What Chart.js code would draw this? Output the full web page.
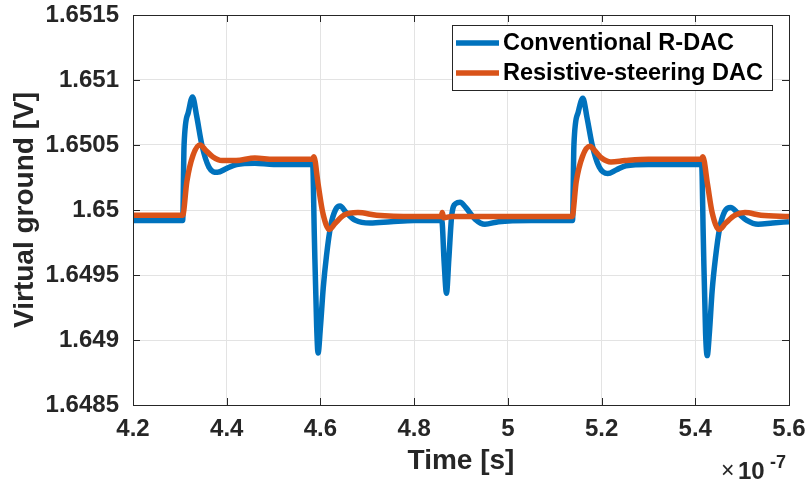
<!DOCTYPE html>
<html>
<head>
<meta charset="utf-8">
<script src="https://cdn.jsdelivr.net/npm/chart.js@4/dist/chart.umd.min.js"></script>
<style>
  html, body { margin: 0; padding: 0; background: #fff; }
  #wrap { width: 808px; height: 484px; }
</style>
</head>
<body>
<div id="wrap"><canvas id="c" width="808" height="484"></canvas></div>
<script>
// Time axis in units of 1e-7 s
const xTicks = [4.2, 4.4, 4.6, 4.8, 5.0, 5.2, 5.4, 5.6];
const xTickLabels = ['4.2', '4.4', '4.6', '4.8', '5', '5.2', '5.4', '5.6'];
const yTicks = [1.6485, 1.649, 1.6495, 1.65, 1.6505, 1.651, 1.6515];
const yTickLabels = ['1.6485', '1.649', '1.6495', '1.65', '1.6505', '1.651', '1.6515'];

const seriesNames = ['Conventional R-DAC', 'Resistive-steering DAC'];

// Conventional R-DAC virtual ground (V)
const convTime = [
  4.200, 4.306, 4.309, 4.318, 4.327, 4.336, 4.347, 4.362, 4.380, 4.400, 4.421, 4.460, 4.500,
  4.5835, 4.587, 4.592, 4.595, 4.600, 4.606, 4.613, 4.622, 4.632, 4.642, 4.655, 4.675, 4.706, 4.750, 4.800,
  4.859, 4.864, 4.869, 4.874, 4.880, 4.889, 4.898, 4.910, 4.930, 4.951, 4.980, 5.050,
  5.138, 5.141, 5.150, 5.160, 5.169, 5.180, 5.195, 5.213, 5.232, 5.252, 5.300,
  5.4136, 5.417, 5.422, 5.4255, 5.430, 5.436, 5.443, 5.452, 5.463, 5.4755, 5.490, 5.510, 5.534, 5.565, 5.600
];
const convVolt = [
  1.64992, 1.64992, 1.65050, 1.65075, 1.65087, 1.65072, 1.65050, 1.65033, 1.65029, 1.65032, 1.65035, 1.65036, 1.65035,
  1.65035, 1.64980, 1.64910, 1.64890, 1.64910, 1.64940, 1.64965, 1.64988, 1.65000, 1.65003, 1.64998, 1.64992, 1.64990, 1.64991, 1.64992,
  1.64992, 1.64960, 1.64936, 1.64962, 1.64995, 1.65005, 1.65006, 1.65002, 1.64993, 1.64989, 1.64991, 1.64992,
  1.64992, 1.65050, 1.65075, 1.65086, 1.65071, 1.65050, 1.65033, 1.65028, 1.65031, 1.65034, 1.65035,
  1.65035, 1.64980, 1.64905, 1.64888, 1.64905, 1.64938, 1.64963, 1.64986, 1.64999, 1.65002, 1.64998, 1.64992, 1.64989, 1.64990, 1.64991
];

// Resistive-steering DAC virtual ground (V)
const rsTime = [
  4.200, 4.306, 4.315, 4.328, 4.343, 4.355, 4.370, 4.390, 4.420, 4.460, 4.500,
  4.583, 4.586, 4.595, 4.605, 4.619, 4.632, 4.650, 4.680, 4.720, 4.800,
  4.858, 4.860, 4.863, 4.880, 5.000,
  5.137, 5.146, 5.159, 5.175, 5.187, 5.200, 5.220, 5.250, 5.300,
  5.413, 5.416, 5.426, 5.436, 5.451, 5.465, 5.485, 5.506, 5.540, 5.600
];
const rsVolt = [
  1.64996, 1.64996, 1.65022, 1.65042, 1.65050, 1.65046, 1.65041, 1.65038, 1.65038, 1.65040, 1.65039,
  1.65039, 1.65041, 1.65020, 1.64998, 1.64985, 1.64990, 1.64996, 1.64998, 1.64996, 1.64995,
  1.64995, 1.64998, 1.64994, 1.64995, 1.64995,
  1.64995, 1.65022, 1.65041, 1.65049, 1.65045, 1.65040, 1.65037, 1.65038, 1.65039,
  1.65039, 1.65041, 1.65020, 1.64998, 1.64985, 1.64990, 1.64996, 1.64998, 1.64996, 1.64995
];

const BLUE = '#0072BD';
const ORANGE = '#D95319';
const INK = '#262626';
const FONT = '"Liberation Sans", Arial, Helvetica, sans-serif';

const pairs = (t, v) => t.map((x, i) => ({ x, y: v[i] }));

// Axes frame, inward tick marks, legend box and the exponent label
const decorations = {
  id: 'decorations',
  afterDatasetsDraw(chart) {
    const { ctx, chartArea: a, scales } = chart;
    const xs = scales.x, ys = scales.y;
    const tl = 7;
    ctx.save();
    ctx.strokeStyle = INK;
    ctx.lineWidth = 1;
    ctx.beginPath();
    xTicks.forEach(v => {
      const px = Math.round(xs.getPixelForValue(v)) + 0.5;
      ctx.moveTo(px, a.bottom); ctx.lineTo(px, a.bottom - tl);
      ctx.moveTo(px, a.top); ctx.lineTo(px, a.top + tl);
    });
    yTicks.forEach(v => {
      const py = Math.round(ys.getPixelForValue(v)) + 0.5;
      ctx.moveTo(a.left, py); ctx.lineTo(a.left + tl, py);
      ctx.moveTo(a.right, py); ctx.lineTo(a.right - tl, py);
    });
    ctx.stroke();
    ctx.strokeRect(Math.round(a.left) + 0.5, Math.round(a.top) + 0.5,
                   Math.round(a.right - a.left), Math.round(a.bottom - a.top));

    // legend
    const bx = 452, by = 25, bw = 320, bh = 65;
    ctx.fillStyle = '#fff';
    ctx.fillRect(bx, by, bw, bh);
    ctx.strokeStyle = INK;
    ctx.strokeRect(bx + 0.5, by + 0.5, bw, bh);
    ctx.font = 'bold 23.5px ' + FONT;
    ctx.textBaseline = 'middle';
    ctx.textAlign = 'left';
    chart.data.datasets.forEach((ds, i) => {
      const ry = by + 18 + i * 30;
      ctx.strokeStyle = ds.borderColor;
      ctx.lineWidth = 5.5;
      ctx.beginPath();
      ctx.moveTo(456, ry); ctx.lineTo(499, ry);
      ctx.stroke();
      ctx.fillStyle = '#000';
      ctx.fillText(ds.label, 503, ry + 1);
    });

    // x-axis exponent
    ctx.fillStyle = INK;
    ctx.textBaseline = 'alphabetic';
    ctx.font = '23px ' + FONT;
    ctx.fillText('\u00d7', 721, 478);
    ctx.font = 'bold 24px ' + FONT;
    ctx.fillText('10', 738, 479);
    ctx.font = 'bold 18px ' + FONT;
    ctx.fillText('-7', 770, 468);
    ctx.restore();
  }
};

new Chart(document.getElementById('c'), {
  type: 'line',
  data: {
    datasets: [
      {
        label: seriesNames[0],
        data: pairs(convTime, convVolt),
        borderColor: BLUE,
        borderWidth: 5.5,
        pointRadius: 0,
        cubicInterpolationMode: 'monotone',
        order: 1
      },
      {
        label: seriesNames[1],
        data: pairs(rsTime, rsVolt),
        borderColor: ORANGE,
        borderWidth: 5.5,
        pointRadius: 0,
        cubicInterpolationMode: 'monotone',
        order: 0
      }
    ]
  },
  options: {
    responsive: false,
    animation: false,
    events: [],
    layout: { padding: { top: 15, right: 19, left: 0, bottom: 0 } },
    plugins: { legend: { display: false }, tooltip: { enabled: false } },
    scales: {
      x: {
        type: 'linear',
        min: 4.2, max: 5.6,
        afterBuildTicks: s => { s.ticks = xTicks.map(v => ({ value: v })); },
        afterFit: s => { s.height = 79; s.paddingLeft = 0; s.paddingRight = 0; },
        grid: { color: '#e3e3e3', lineWidth: 1, drawTicks: false },
        border: { display: false },
        ticks: {
          color: INK,
          font: { family: FONT, size: 24, weight: 'bold' },
          padding: 10,
          maxRotation: 0,
          callback: (v, i) => xTickLabels[i]
        },
        title: {
          display: true,
          text: 'Time [s]',
          color: INK,
          font: { family: FONT, size: 28, weight: 'bold' },
          padding: { top: 0, bottom: 6 }
        }
      },
      y: {
        type: 'linear',
        min: 1.6485, max: 1.6515,
        afterBuildTicks: s => { s.ticks = yTicks.map(v => ({ value: v })); },
        afterFit: s => { s.width = 133; s.paddingTop = 0; s.paddingBottom = 0; },
        grid: { color: '#e3e3e3', lineWidth: 1, drawTicks: false },
        border: { display: false },
        ticks: {
          color: INK,
          font: { family: FONT, size: 24, weight: 'bold' },
          padding: 14,
          callback: (v, i) => yTickLabels[i]
        },
        title: {
          display: true,
          text: 'Virtual ground [V]',
          color: INK,
          font: { family: FONT, size: 28, weight: 'bold' },
          padding: { top: 8, bottom: 0 }
        }
      }
    }
  },
  plugins: [decorations]
});
</script>
</body>
</html>
